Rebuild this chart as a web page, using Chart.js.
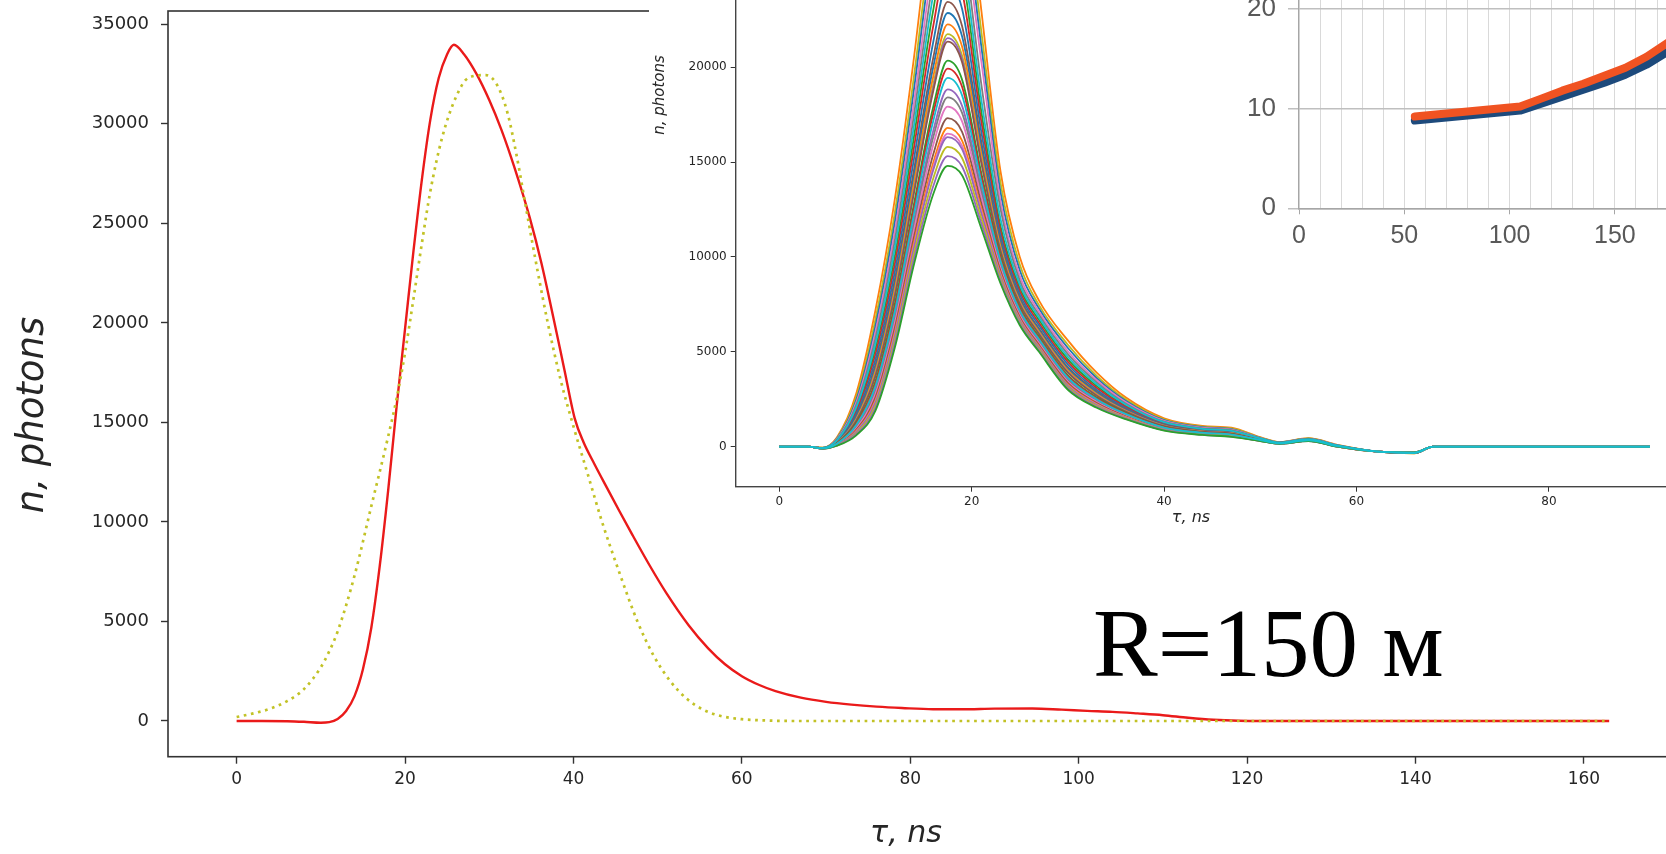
<!DOCTYPE html>
<html><head><meta charset="utf-8">
<script src="https://cdn.jsdelivr.net/npm/chart.js@4.4.1/dist/chart.umd.min.js"></script>
<style>
html,body{margin:0;padding:0;background:#fff;}
body{width:1666px;height:854px;overflow:hidden;position:relative;}
.box{position:absolute;}
canvas{display:block;}
#rlabel{position:absolute;left:1093px;top:595px;font-family:"Liberation Serif","Times New Roman",serif;font-size:97px;line-height:1;color:#000;white-space:nowrap;}
</style></head><body>
<div class="box" style="left:0;top:0;width:1700px;height:854px"><canvas id="main" width="1700" height="854"></canvas></div>
<div class="box" style="left:649px;top:-240px;width:1060px;height:775px;background:#fff"><canvas id="ins1" width="1060" height="775"></canvas></div>
<div class="box" style="left:1210px;top:-100px;width:520px;height:360px;background:#fff"><canvas id="ins2" width="520" height="360"></canvas></div>
<div id="rlabel">R=150 м</div>
<script>
// ---------- main chart data ----------
const mainXTicks = [0,20,40,60,80,100,120,140,160];
const mainYTicks = [0,5000,10000,15000,20000,25000,30000,35000];
const redT = [0,3,6,8,10,11,12,13,14,15,16,17,18,19,20,21,22,23,24,25,25.8,27,28.5,30,31.45,33,34.8,36.2,37.6,38.9,40.15,41.2,42.5,44,45.45,47,49,51,53.7,56,58,60,62,64,67,70,73,76,79,82.7,86,90,94.5,98,101,104,107,110,113,116,119,122,140,163];
const redN = [0,0,-10,-40,-85,-60,100,500,1250,2600,4700,7800,11600,15800,19700,23600,27200,30200,32300,33500,33970,33500,32500,31200,29700,27800,25300,23000,20300,17700,15200,14000,12900,11700,10550,9350,7850,6450,4800,3650,2850,2250,1820,1500,1170,960,820,720,650,590,590,620,630,570,510,460,380,290,160,60,10,0,0,0];
const yelT = [0,2,4,6,8,10,11,12,14,16,18,19,20,21,22,23,24.4,26,27.5,29.6,31,32.2,33.3,34.4,35.7,37,38.5,40,41.7,43.4,45.5,47.6,49.5,51.5,53.5,55.5,57.5,60,63,66,80,100,120,140,163];
const yelN = [200,380,620,1000,1600,2700,3500,4500,7300,10800,14300,16200,18500,21200,24000,26600,29300,31300,32300,32450,31900,30500,28300,25700,22700,19900,17100,14800,12400,10000,7400,5000,3300,2000,1100,550,250,90,25,0,0,0,0,0,0];

// ---------- inset 1 data (many simulated pulses) ----------
const insXTicks = [0,20,40,60,80];
const insYTicks = [0,5000,10000,15000,20000,25000,30000,35000];
const insT = [0,3,4.5,6,8,10,12,14,16,17.5,19,21,23,25,27,30,33,36,40,44,47,50,52,55,58,62,66,68,72,90.5];
const c01 = [0,0,-100,50,600,1900,5200,9600,13300,14800,14300,11500,8600,6400,5000,3000,2050,1450,850,620,520,300,150,300,0,-250,-300,0,0,0];
const c02 = [0,0,-100,60,660,2040,5410,9890,13720,15310,14760,11770,8730,6490,5070,3070,2100,1480,870,630,530,300,150,300,0,-250,-300,0,0,0];
const c03 = [0,0,-100,70,720,2180,5610,10180,14130,15800,15210,12030,8860,6570,5140,3140,2150,1510,880,650,550,310,160,310,10,-250,-300,0,0,0];
const c04 = [0,0,-95,90,780,2320,5820,10470,14560,16310,15680,12300,8990,6660,5220,3210,2200,1540,900,660,560,320,160,310,10,-250,-300,0,0,0];
const c05 = [0,0,-95,90,800,2380,5900,10580,14710,16500,15850,12400,9040,6690,5240,3230,2220,1550,910,660,560,320,160,310,10,-250,-300,0,0,0];
const c06 = [0,0,-95,100,830,2460,6030,10760,14960,16800,16120,12560,9120,6740,5290,3280,2250,1570,920,670,570,320,160,315,10,-250,-305,0,0,0];
const c07 = [0,0,-95,110,890,2600,6240,11050,15390,17310,16590,12830,9250,6830,5360,3350,2300,1600,940,680,580,330,165,320,15,-250,-305,0,0,0];
const c08 = [0,0,-90,125,960,2770,6490,11400,15890,17920,17140,13150,9410,6930,5450,3430,2360,1640,960,700,600,330,165,325,15,-250,-310,0,0,0];
const c09 = [0,0,-90,135,1020,2910,6690,11680,16300,18410,17590,13410,9540,7010,5520,3500,2400,1670,970,710,610,340,170,330,20,-250,-310,0,0,0];
const c10 = [0,0,-90,145,1070,3030,6860,11920,16640,18830,17960,13630,9640,7080,5580,3550,2440,1700,990,720,620,340,170,330,20,-250,-310,0,0,0];
const c11 = [0,0,-90,160,1140,3200,7110,12270,17150,19430,18510,13950,9800,7180,5660,3640,2500,1730,1010,740,640,350,175,335,25,-250,-310,0,0,0];
const c12 = [0,0,-85,170,1200,3340,7310,12550,17560,19920,18960,14210,9930,7270,5730,3700,2550,1760,1030,750,650,355,180,340,25,-250,-315,0,0,0];
const c13 = [0,0,-85,180,1250,3450,7490,12790,17900,20340,19340,14430,10040,7340,5790,3760,2590,1790,1040,760,660,360,180,345,30,-250,-315,0,0,0];
const c14 = [0,0,-85,205,1360,3730,7900,13370,18730,21340,20250,14960,10300,7510,5930,3900,2690,1850,1080,790,690,370,185,350,35,-250,-315,0,0,0];
const c15 = [0,0,-80,210,1380,3790,7980,13480,18890,21530,20420,15060,10340,7540,5960,3930,2710,1860,1080,790,690,370,185,355,35,-250,-320,0,0,0];
const c16 = [0,0,-80,215,1410,3850,8060,13600,19060,21740,20610,15170,10400,7570,5990,3950,2730,1870,1090,800,700,375,185,355,35,-250,-320,0,0,0];
const c17 = [0,0,-80,225,1470,3990,8270,13900,19490,22250,21080,15440,10530,7660,6060,4020,2780,1900,1110,810,710,380,190,360,40,-250,-320,0,0,0];
const c18 = [0,0,-80,240,1540,4160,8520,14240,19990,22850,21630,15760,10690,7760,6150,4110,2840,1940,1130,820,720,385,195,365,45,-250,-320,0,0,0];
const c19 = [0,0,-75,255,1600,4320,8770,14580,20480,23440,22160,16070,10840,7860,6230,4190,2900,1980,1150,840,740,390,195,370,45,-250,-325,0,0,0];
const c20 = [0,0,-75,280,1720,4600,9180,15160,21310,24440,23070,16600,11100,8030,6380,4330,2990,2040,1180,860,760,400,200,375,50,-250,-325,0,0,0];
const c21 = [0,0,-70,305,1840,4890,9600,15750,22160,25460,24000,17140,11360,8200,6520,4470,3090,2100,1220,890,790,415,205,385,55,-250,-330,0,0,0];
const c22 = [0,0,-70,330,1960,5170,10010,16330,22990,26460,24910,17670,11620,8370,6670,4600,3190,2160,1250,920,820,425,210,390,60,-250,-330,0,0,0];
const c23 = [0,0,-65,350,2070,5450,10430,16900,23820,27460,25820,18300,12000,8540,6810,4740,3290,2220,1290,940,840,435,215,400,65,-250,-335,0,0,0];
const c24 = [0,0,-65,375,2190,5730,10840,17480,24650,28470,26740,19100,12500,8750,6950,4880,3390,2280,1320,970,870,445,220,410,70,-250,-335,0,0,0];
const c25 = [0,0,-60,400,2320,6050,11300,18120,25580,29580,27750,20300,12900,9000,7110,5030,3500,2350,1360,1000,900,455,230,415,80,-250,-340,0,0,0];
const c26 = [0,0,-60,430,2460,6380,11800,18820,26580,30790,28850,21100,13400,9300,7280,5200,3610,2420,1400,1030,930,470,235,425,85,-250,-340,0,0,0];
const c27 = [0,0,-55,460,2600,6720,12300,19520,27590,32000,29950,21900,13900,9600,7460,5370,3730,2500,1440,1060,960,480,240,435,90,-250,-345,0,0,0];
const c28 = [0,0,-50,500,2800,7200,13000,20500,29000,33700,31500,23000,14500,10000,7700,5600,3900,2600,1500,1100,1000,500,250,450,100,-250,-350,0,0,0];
const insCurves = [c01,c02,c03,c04,c05,c06,c07,c08,c09,c10,c11,c12,c13,c14,c15,c16,c17,c18,c19,c20,c21,c22,c23,c24,c25,c26,c27,c28];
const insColors = ['#2ca02c','#9467bd','#bcbd22','#9467bd','#e377c2','#ff7f0e','#8c564b','#e377c2','#7f7f7f','#9467bd','#17becf','#d62728','#2ca02c','#8c564b','#9467bd','#bcbd22','#ff7f0e','#1f77b4','#8c564b','#1f77b4','#d62728','#2ca02c','#17becf','#7f7f7f','#e377c2','#1f77b4','#bcbd22','#ff7f0e'];

// ---------- inset 2 data ----------
const xlX = [55,60,70,80,90,100,105,115,125,135,145,155,165,175,185];
const xlOrange = [9.2,9.3,9.5,9.7,9.9,10.1,10.2,11.0,11.8,12.5,13.3,14.1,15.2,16.6,18.0];
const xlBlue = [8.8,8.9,9.1,9.3,9.5,9.7,9.8,10.5,11.2,11.9,12.6,13.4,14.4,15.7,17.1];
const xlXTicks = [0,10,20,30,40,50,60,70,80,90,100,110,120,130,140,150,160,170,180,190,200];
const xlYTicks = [0,10,20,30];

// ---------- helpers ----------
const pts = (xs, ys) => xs.map((x, i) => ({x: x, y: ys[i]}));
const setTicks = arr => s => { s.ticks = arr.map(v => ({value: v})); };
const noPad = s => { s.paddingTop = 0; s.paddingBottom = 0; s.paddingLeft = 0; s.paddingRight = 0; };
const fitW = w => s => { s.width = w; noPad(s); };
const fitH = h => s => { s.height = h; noPad(s); };
const framePlugin = (color, width) => ({
  id: 'frame',
  afterDatasetsDraw(chart) {
    const {ctx, chartArea: a} = chart;
    ctx.save(); ctx.strokeStyle = color; ctx.lineWidth = width;
    ctx.strokeRect(a.left, a.top, a.right - a.left, a.bottom - a.top);
    ctx.restore();
  }
});
const textPlugin = items => ({
  id: 'texts',
  afterDraw(chart) {
    const ctx = chart.ctx;
    items.forEach(it => {
      ctx.save(); ctx.font = it.font; ctx.fillStyle = it.color;
      ctx.textAlign = 'center'; ctx.textBaseline = 'middle';
      ctx.translate(it.x, it.y); if (it.rot) ctx.rotate(it.rot);
      ctx.fillText(it.text, 0, 0); ctx.restore();
    });
  }
});
const base = {
  responsive: false, animation: false, events: [],
  plugins: {legend: {display: false}, tooltip: {enabled: false}},
  elements: {point: {radius: 0}}
};

// ---------- main chart ----------
new Chart(document.getElementById('main'), {
  type: 'line',
  data: {datasets: [
    {data: pts(yelT, yelN), borderColor: '#c2c226', borderWidth: 2.7, borderDash: [2.7, 4.6], cubicInterpolationMode: 'monotone', fill: false},
    {data: pts(redT, redN), borderColor: '#ea1a1a', borderWidth: 2.4, cubicInterpolationMode: 'monotone', fill: false}
  ]},
  options: Object.assign({}, base, {
    layout: {padding: {top: 11, left: 0, right: 22.2, bottom: 0}},
    scales: {
      x: {type: 'linear', min: -8.15, max: 171.15, afterBuildTicks: setTicks(mainXTicks),
          afterFit: fitH(97.3),
          border: {display: false},
          grid: {display: true, drawOnChartArea: false, drawTicks: true, tickLength: 7, tickWidth: 1.4, tickColor: '#333'},
          ticks: {autoSkip: false, maxRotation: 0, padding: 6, color: '#262626', font: {family: 'DejaVu Sans', size: 17}, callback: v => String(v)}},
      y: {type: 'linear', min: -1794, max: 35668, afterBuildTicks: setTicks(mainYTicks),
          afterFit: fitW(168),
          border: {display: false},
          grid: {display: true, drawOnChartArea: false, drawTicks: true, tickLength: 7, tickWidth: 1.4, tickColor: '#333'},
          ticks: {autoSkip: false, padding: 12, color: '#262626', font: {family: 'DejaVu Sans', size: 18}, callback: v => String(v)}}
    }
  }),
  plugins: [framePlugin('#333', 1.6), textPlugin([
    {text: 'n, photons', x: 33, y: 415, rot: -Math.PI / 2, font: 'italic 37px "DejaVu Sans"', color: '#262626'},
    {text: 'τ, ns', x: 906, y: 834, font: 'italic 30px "DejaVu Sans"', color: '#262626'}
  ])]
});

// ---------- inset 1 ----------
const insSets = insCurves.map((c, i) => ({
  data: pts(insT, c), borderColor: insColors[i], borderWidth: 1.8,
  cubicInterpolationMode: 'monotone', fill: false,
  order: insColors[i] === '#17becf' ? -1 : i
}));
new Chart(document.getElementById('ins1'), {
  type: 'line',
  data: {datasets: insSets},
  options: Object.assign({}, base, {
    layout: {padding: {top: 14, left: 0, right: 16, bottom: 0}},
    scales: {
      x: {type: 'linear', min: -4.53, max: 94.98, afterBuildTicks: setTicks(insXTicks),
          afterFit: fitH(48.3),
          border: {display: false},
          grid: {display: true, drawOnChartArea: false, drawTicks: true, tickLength: 5, tickWidth: 1, tickColor: '#333'},
          ticks: {autoSkip: false, maxRotation: 0, padding: 3, color: '#262626', font: {family: 'DejaVu Sans', size: 12}, callback: v => String(v)}},
      y: {type: 'linear', min: -2107, max: 35442, afterBuildTicks: setTicks(insYTicks),
          afterFit: fitW(86.7),
          border: {display: false},
          grid: {display: true, drawOnChartArea: false, drawTicks: true, tickLength: 5, tickWidth: 1, tickColor: '#333'},
          ticks: {autoSkip: false, padding: 4, color: '#262626', font: {family: 'DejaVu Sans', size: 12}, callback: v => String(v)}}
    }
  }),
  plugins: [framePlugin('#444', 1.4), textPlugin([
    {text: 'n, photons', x: 11, y: 335, rot: -Math.PI / 2, font: 'italic 15px "DejaVu Sans"', color: '#262626'},
    {text: 'τ, ns', x: 542, y: 758, font: 'italic 16px "DejaVu Sans"', color: '#262626'}
  ])]
});

// ---------- inset 2 ----------
new Chart(document.getElementById('ins2'), {
  type: 'line',
  data: {datasets: [
    {data: pts(xlX, xlOrange), borderColor: '#f05322', borderWidth: 8, borderCapStyle: 'round', borderJoinStyle: 'round', tension: 0, fill: false},
    {data: pts(xlX, xlBlue), borderColor: '#1d4a7c', borderWidth: 8, borderCapStyle: 'round', borderJoinStyle: 'round', tension: 0, fill: false}
  ]},
  options: Object.assign({}, base, {
    layout: {padding: {top: 9.2, left: 0, right: 9.8, bottom: 0}},
    scales: {
      x: {type: 'linear', min: 0, max: 200, afterBuildTicks: setTicks(xlXTicks),
          afterFit: fitH(51.7),
          border: {display: true, color: '#a6a6a6', width: 1.5},
          grid: {display: true, drawOnChartArea: true, drawTicks: true, tickLength: 6,
                 color: c => c.tick && c.tick.value === 0 ? 'rgba(0,0,0,0)' : '#d9d9d9', lineWidth: 1,
                 tickColor: c => c.tick && c.tick.value % 50 === 0 ? '#a6a6a6' : 'rgba(0,0,0,0)'},
          ticks: {autoSkip: false, maxRotation: 0, padding: 7, color: '#595959', font: {family: 'Liberation Sans', size: 25},
                  callback: v => (v % 50 === 0 ? String(v) : '')}},
      y: {type: 'linear', min: 0, max: 30, afterBuildTicks: setTicks(xlYTicks),
          afterFit: fitW(89),
          border: {display: true, color: '#a6a6a6', width: 1.5},
          grid: {display: true, drawOnChartArea: true, drawTicks: true, tickLength: 11, color: '#bfbfbf', lineWidth: 1.5, tickColor: '#bfbfbf'},
          ticks: {autoSkip: false, padding: 12, color: '#595959', font: {family: 'Liberation Sans', size: 26}, callback: v => String(v)}}
    }
  })
});
</script>
</body></html>
